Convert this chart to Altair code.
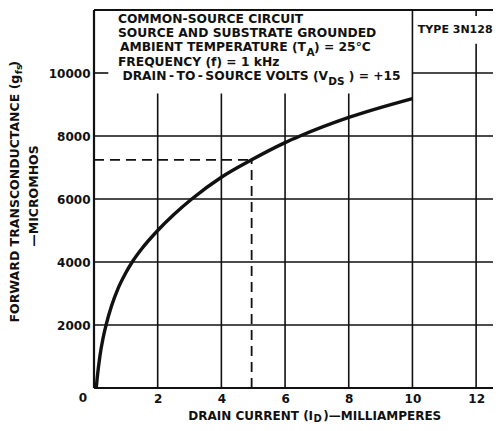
import altair as alt
import pandas as pd

# ---- data ----
current_mA = [0.07, 0.10, 0.185, 0.29, 0.38, 0.55, 0.76, 1.0, 1.2, 1.5, 2.0, 2.5, 3.07,
              4.0, 4.95, 6.0, 6.47, 8.0, 10.0]
gfs_umho = [0, 313, 1010, 1610, 2005, 2600, 3170, 3660, 4000, 4420, 5000, 5500, 6000,
            6690, 7244, 7790, 8000, 8590, 9190]

op_current = 4.95
op_gfs = 7244

x_ticks = [2, 4, 6, 8, 10, 12]
y_ticks = [2000, 4000, 6000, 8000, 10000]

X_MAX = 12.53
Y_MAX = 12000
BOX_BOTTOM = 9350     # bottom of the condition text box
TYPE_BOTTOM = 10925   # bottom of the "TYPE" label box

FONT = "DejaVu Sans"
INK = "#111111"

xs = alt.Scale(domain=[0, X_MAX], nice=False, zero=False)
ys = alt.Scale(domain=[0, Y_MAX], nice=False, zero=False)
xaxis = alt.Axis(values=x_ticks, title=None, grid=False, ticks=False, domain=False,
                 labelFont=FONT, labelFontSize=12, labelFontWeight="bold", labelColor=INK,
                 labelPadding=5, labelFlush=False, format="d")
yaxis = alt.Axis(values=y_ticks, title=None, grid=False, ticks=False, domain=False,
                 labelFont=FONT, labelFontSize=12, labelFontWeight="bold", labelColor=INK,
                 labelPadding=4, format="d")


def X(f):
    return alt.X(f"{f}:Q", scale=xs, axis=xaxis)


def Y(f):
    return alt.Y(f"{f}:Q", scale=ys, axis=yaxis)


# grid segments
grid_rows = []
for t in x_ticks:
    if t < 10:
        grid_rows.append(dict(x=t, x2=t, y=0, y2=BOX_BOTTOM))
    elif t == 10:
        grid_rows.append(dict(x=t, x2=t, y=0, y2=Y_MAX))
    else:
        grid_rows.append(dict(x=t, x2=t, y=0, y2=TYPE_BOTTOM))
        grid_rows.append(dict(x=t, x2=t, y=Y_MAX - 190, y2=Y_MAX))
for t in y_ticks:
    if t < 10000:
        grid_rows.append(dict(x=0, x2=X_MAX, y=t, y2=t))
    else:
        grid_rows.append(dict(x=10, x2=X_MAX, y=t, y2=t))
        grid_rows.append(dict(x=0, x2=0.45, y=t, y2=t))
grid_df = pd.DataFrame(grid_rows)

frame_df = pd.DataFrame([
    dict(x=0, x2=0, y=0, y2=Y_MAX),
    dict(x=0, x2=X_MAX, y=0, y2=0),
    dict(x=0, x2=X_MAX, y=Y_MAX, y2=Y_MAX),
])

dash_df = pd.DataFrame([
    dict(x=0, x2=op_current, y=op_gfs, y2=op_gfs),
    dict(x=op_current, x2=op_current, y=0, y2=op_gfs),
])

curve_df = pd.DataFrame({"x": current_mA, "y": gfs_umho})

grid = alt.Chart(grid_df).mark_rule(color=INK, strokeWidth=1.6).encode(
    x=X("x"), x2="x2:Q", y=Y("y"), y2="y2:Q")
frame = alt.Chart(frame_df).mark_rule(color=INK, strokeWidth=2.2).encode(
    x=X("x"), x2="x2:Q", y=Y("y"), y2="y2:Q")
dash = alt.Chart(dash_df).mark_rule(color=INK, strokeWidth=1.8, strokeDash=[10, 6]).encode(
    x=X("x"), x2="x2:Q", y=Y("y"), y2="y2:Q")
curve = alt.Chart(curve_df).mark_line(color=INK, strokeWidth=3.4, interpolate="monotone").encode(
    x=X("x"), y=Y("y"))


def texts(rows, **kw):
    df = pd.DataFrame(rows, columns=["x", "y", "t"])
    base = dict(font=FONT, fontWeight="bold", color=INK, baseline="middle", fontSize=12.3)
    base.update(kw)
    return alt.Chart(df).mark_text(**base).encode(x=X("x"), y=Y("y"), text="t:N")


TS = "\u2009"  # thin space around the hyphens, as set in the original
L1, L2, L3, L4, L5 = 11730, 11275, 10820, 10365, 9910
box_left = texts([
    (0.75, L1, "COMMON-SOURCE CIRCUIT"),
    (0.75, L2, "SOURCE AND SUBSTRATE GROUNDED"),
    (0.75, L4, "FREQUENCY (f) = 1 kHz"),
    (6.91, L3, ") = 25°C"),
    (8.0, L5, ") = +15"),
], align="left")

type_lbl = texts([(10.17, 11370, "TYPE 3N128")], align="left", fontSize=11)

box_right = texts([
    (6.656, L3, "AMBIENT TEMPERATURE (T"),
    (7.35, L5, f"DRAIN{TS}-{TS}TO{TS}-{TS}SOURCE VOLTS (V"),
], align="right")

subs = texts([
    (6.67, L3 - 180, "A"),
    (7.36, L5 - 190, "DS"),
], align="left", fontSize=10.5)

xtitle_l = texts([(6.88, -889, "DRAIN CURRENT (I")], align="right", fontSize=12)
xtitle_s = texts([(6.89, -984, "D")], align="left", fontSize=10)
xtitle_r = texts([(7.2, -889, ")\u2014MILLIAMPERES")], align="left", fontSize=12)

zero_lbl = texts([(-0.345, -317, "0")], align="center", fontSize=12)

ytitle_main = texts([(-2.48, 9946, "FORWARD TRANSCONDUCTANCE (g")], align="right", angle=270, fontSize=12.5)
ytitle_sub = texts([(-2.37, 9962, "fs")], align="left", angle=270, fontSize=9.5)
ytitle_close = texts([(-2.48, 10199, ")")], align="left", angle=270, fontSize=12.5)
ytitle_2 = texts([(-1.88, 6094, "\u2014MICROMHOS")], align="center", angle=270, fontSize=12.5)

chart = alt.layer(
    grid, frame, dash, curve, box_left, type_lbl, box_right, subs,
    xtitle_l, xtitle_s, xtitle_r, zero_lbl,
    ytitle_main, ytitle_sub, ytitle_close, ytitle_2,
).properties(
    width=399, height=378,
    autosize=alt.AutoSizeParams(type="none"),
    padding={"left": 86, "top": 2, "right": 0, "bottom": 35},
    background="white",
).configure_view(stroke=None)

chart.save("out.html", embed_options={"renderer": "svg", "actions": False})
